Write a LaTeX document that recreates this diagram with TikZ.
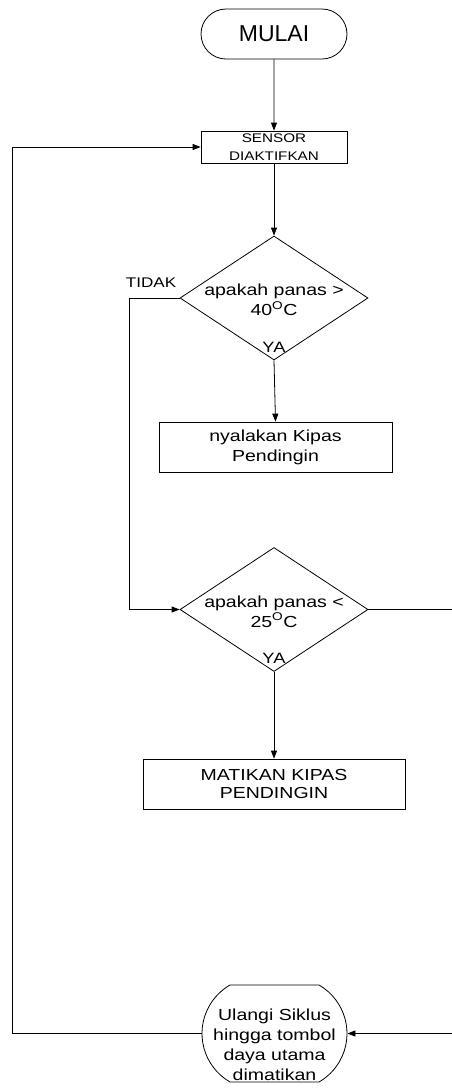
\documentclass[tikz,border=0pt]{standalone}
\usepackage{fontspec}
\setmainfont{Liberation Sans}
\newfontfamily\widefont[FakeStretch=1.22]{Liberation Sans}
\usetikzlibrary{shapes.geometric,shapes.misc,arrows.meta}
\begin{document}
\begin{tikzpicture}[x=1pt,y=-1pt,line width=0.8pt,
  arr/.style={-{Triangle[length=8pt,width=6pt]}},
  box/.style={draw,rectangle,inner sep=0pt,align=center},
  decision/.style={draw,diamond,minimum width=188pt,minimum height=124pt,inner sep=0pt},
  term/.style={draw,rounded rectangle,inner sep=0pt},
  txt/.style={font=\widefont\fontsize{16}{20}\selectfont,align=center,inner sep=0pt},
  lbl/.style={inner sep=0pt},
]
\useasboundingbox (0,0) rectangle (451,1088);

\node[term,minimum width=146pt,minimum height=50pt,font=\fontsize{23}{26}\selectfont] (start) at (274,34) {MULAI};
\node[box,minimum width=146pt,minimum height=32pt,font=\widefont\fontsize{12.5}{18}\selectfont] (sensor) at (274,147) {SENSOR\\DIAKTIFKAN};
\node[decision,label={[txt,yshift=-2pt]center:apakah panas >\\40\textsuperscript{O}C}] (d1) at (274,298) {};
\node[lbl,font=\widefont\fontsize{14}{16}\selectfont] (tidak) at (151,283) {TIDAK};
\node[lbl,font=\widefont\fontsize{15}{16}\selectfont] (ya1) at (274,347.5) {YA};
\node[box,minimum width=233pt,minimum height=50pt,font=\widefont\fontsize{16}{20}\selectfont] (fanon) at (275.5,447) {nyalakan Kipas\\Pendingin};
\node[decision,label={[txt,yshift=-2pt]center:apakah panas <\\25\textsuperscript{O}C}] (d2) at (274,609.5) {};
\node[lbl,font=\widefont\fontsize{15}{16}\selectfont] (ya2) at (274,658.5) {YA};
\node[box,minimum width=262pt,minimum height=50pt,font=\widefont\fontsize{16}{18}\selectfont] (fanoff) at (274,784) {MATIKAN KIPAS\\PENDINGIN};
\node[term,rounded rectangle arc length=120,minimum width=145pt,minimum height=97pt,
  label={[txt,yshift=-11.5pt]center:Ulangi Siklus\\hingga tombol\\daya utama\\dimatikan}] (loop) at (274.5,1033.5) {};

\coordinate (c1) at (129,298);
\coordinate (c2) at (453,609.5);
\coordinate (c3) at (12.5,1033.5);

\draw[arr] (start) -- (sensor);
\draw[arr] (sensor) -- (d1);
\draw[arr] (d1.south) -- (fanon.north);
\draw[arr] (d1.west) -- (c1) |- (d2.west);
\draw[arr] (d2) -- (fanoff);
\draw[arr] (d2.east) -- (c2) |- (loop.east);
\draw[arr] (loop.west) -- (c3) |- (sensor.west);
\end{tikzpicture}
\end{document}
